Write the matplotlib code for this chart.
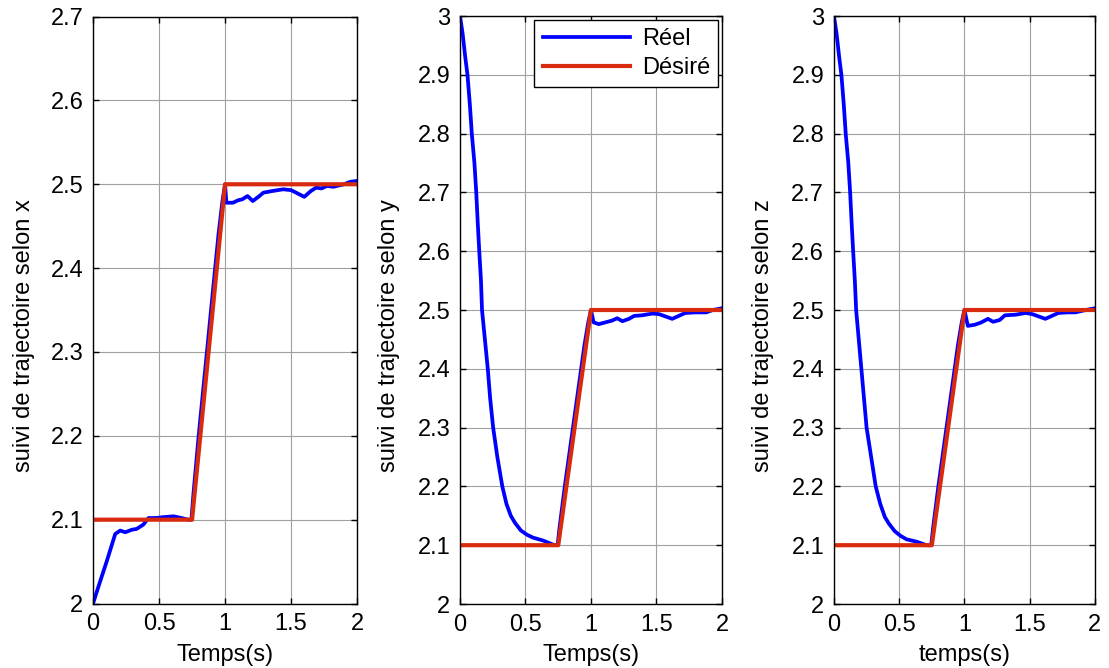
import matplotlib.pyplot as plt

plt.rcParams['font.family'] = ['Liberation Sans', 'DejaVu Sans']

# consigne (identique pour les trois axes, sauf la valeur initiale du reel)
t_des = [0.0, 0.75, 1.0, 2.0]
x_des = [2.1, 2.1, 2.5, 2.5]

# suivi selon x
t_x = [0.0, 0.02, 0.055, 0.105, 0.168, 0.206, 0.244, 0.294, 0.33, 0.38, 0.42,
       0.48, 0.53, 0.61, 0.67, 0.72, 0.745, 0.76, 0.8, 0.85, 0.9, 0.95, 0.98,
       1.0, 1.01, 1.06, 1.1, 1.13, 1.17, 1.21, 1.26, 1.29, 1.36, 1.44, 1.5,
       1.55, 1.6, 1.65, 1.69, 1.73, 1.77, 1.82, 1.9, 1.95, 2.0]
x_reel = [2.0, 2.01, 2.027, 2.051, 2.083, 2.087, 2.085, 2.088, 2.089, 2.094, 2.102,
          2.102, 2.103, 2.104, 2.102, 2.1, 2.1, 2.13, 2.2, 2.28, 2.36, 2.44, 2.48,
          2.5, 2.478, 2.478, 2.481, 2.482, 2.486, 2.48, 2.486, 2.49, 2.492, 2.494, 2.493,
          2.489, 2.485, 2.492, 2.496, 2.495, 2.498, 2.497, 2.5, 2.503, 2.504]

# suivi selon y
t_y = [0.0, 0.02, 0.04, 0.057, 0.075, 0.09, 0.11, 0.124, 0.135, 0.147, 0.16,
       0.168, 0.19, 0.212, 0.23, 0.253, 0.285, 0.323, 0.355, 0.388, 0.42, 0.465,
       0.51, 0.556, 0.633, 0.71, 0.745, 0.76, 0.8, 0.85, 0.9, 0.95, 0.98, 1.0,
       1.02, 1.06, 1.11, 1.16, 1.2, 1.24, 1.29, 1.33, 1.39, 1.47, 1.52, 1.57,
       1.62, 1.67, 1.72, 1.8, 1.88, 1.93, 2.0]
y_reel = [3.0, 2.97, 2.93, 2.9, 2.85, 2.8, 2.75, 2.7, 2.65, 2.6, 2.55,
          2.5, 2.45, 2.4, 2.35, 2.3, 2.25, 2.2, 2.17, 2.15, 2.138, 2.125,
          2.118, 2.113, 2.108, 2.101, 2.1, 2.13, 2.2, 2.28, 2.36, 2.44, 2.48, 2.5,
          2.479, 2.476, 2.479, 2.482, 2.486, 2.481, 2.485, 2.49, 2.491, 2.494, 2.493, 2.489,
          2.485, 2.49, 2.495, 2.496, 2.496, 2.5, 2.503]

# suivi selon z
t_z = [0.0, 0.02, 0.04, 0.057, 0.075, 0.09, 0.11, 0.124, 0.135, 0.147, 0.16,
       0.17, 0.19, 0.21, 0.23, 0.25, 0.285, 0.32, 0.355, 0.39, 0.42, 0.465,
       0.51, 0.556, 0.633, 0.71, 0.745, 0.76, 0.8, 0.85, 0.9, 0.95, 0.98, 1.0,
       1.026, 1.08, 1.13, 1.18, 1.22, 1.27, 1.31, 1.39, 1.47, 1.52, 1.57, 1.62,
       1.67, 1.72, 1.79, 1.85, 1.93, 2.0]
z_reel = [3.0, 2.97, 2.93, 2.9, 2.85, 2.8, 2.75, 2.7, 2.65, 2.6, 2.55,
          2.5, 2.45, 2.4, 2.35, 2.3, 2.25, 2.2, 2.17, 2.148, 2.137, 2.124,
          2.116, 2.11, 2.106, 2.1, 2.1, 2.13, 2.2, 2.28, 2.36, 2.44, 2.48, 2.5,
          2.473, 2.475, 2.479, 2.485, 2.48, 2.483, 2.491, 2.492, 2.495, 2.493, 2.489, 2.485,
          2.49, 2.495, 2.496, 2.496, 2.5, 2.503]

panneaux = [
    (t_x, x_reel, 'suivi de trajectoire selon x', 'Temps(s)', (2.0, 2.7)),
    (t_y, y_reel, 'suivi de trajectoire selon y', 'Temps(s)', (2.0, 3.0)),
    (t_z, z_reel, 'suivi de trajectoire selon z', 'temps(s)', (2.0, 3.0)),
]
positions = [
    [0.0839, 0.0965, 0.2381, 0.8787],
    [0.4148, 0.0958, 0.2362, 0.8802],
    [0.7520, 0.0958, 0.2353, 0.8802],
]
x_ticks = [0, 0.5, 1, 1.5, 2]
x_ticklabels = ['0', '0.5', '1', '1.5', '2']

bleu = '#0000ff'
rouge = '#d92a0e'
fs = 17

fig = plt.figure(figsize=(11.09, 6.68), dpi=100)

for i, (t, reel, ylab, xlab, ylim) in enumerate(panneaux):
    ax = fig.add_axes(positions[i])
    ax.plot(t, reel, color=bleu, lw=2.7, label='Réel')
    ax.plot(t_des, x_des, color=rouge, lw=3.0, label='Désiré')
    ax.set_xlim(0, 2)
    ax.set_ylim(*ylim)
    ax.set_xticks(x_ticks)
    ax.set_xticklabels(x_ticklabels)
    n = int(round((ylim[1] - ylim[0]) / 0.1))
    yt = [round(ylim[0] + 0.1 * k, 1) for k in range(n + 1)]
    ax.set_yticks(yt)
    ax.set_yticklabels([('%g' % v) for v in yt])
    ax.grid(True, color='#a0a0a0', lw=0.8)
    ax.tick_params(direction='in', top=True, right=True, length=4, width=1,
                   labelsize=fs, pad=7)
    for s in ax.spines.values():
        s.set_linewidth(1.0)
    ax.set_xlabel(xlab, fontsize=fs, labelpad=6)
    ax.set_ylabel(ylab, fontsize=fs)
    ax.yaxis.set_label_coords(-0.22 if i == 0 else -0.23, 0.457)
    if i == 1:
        leg = ax.legend(loc='upper right', fontsize=fs, fancybox=False,
                        edgecolor='black', framealpha=1, borderaxespad=0.15,
                        handlelength=3.7, handletextpad=0.5, labelspacing=0.3,
                        borderpad=0.35)
        leg.get_frame().set_linewidth(1.0)

fig.savefig('out.png', dpi=100)
